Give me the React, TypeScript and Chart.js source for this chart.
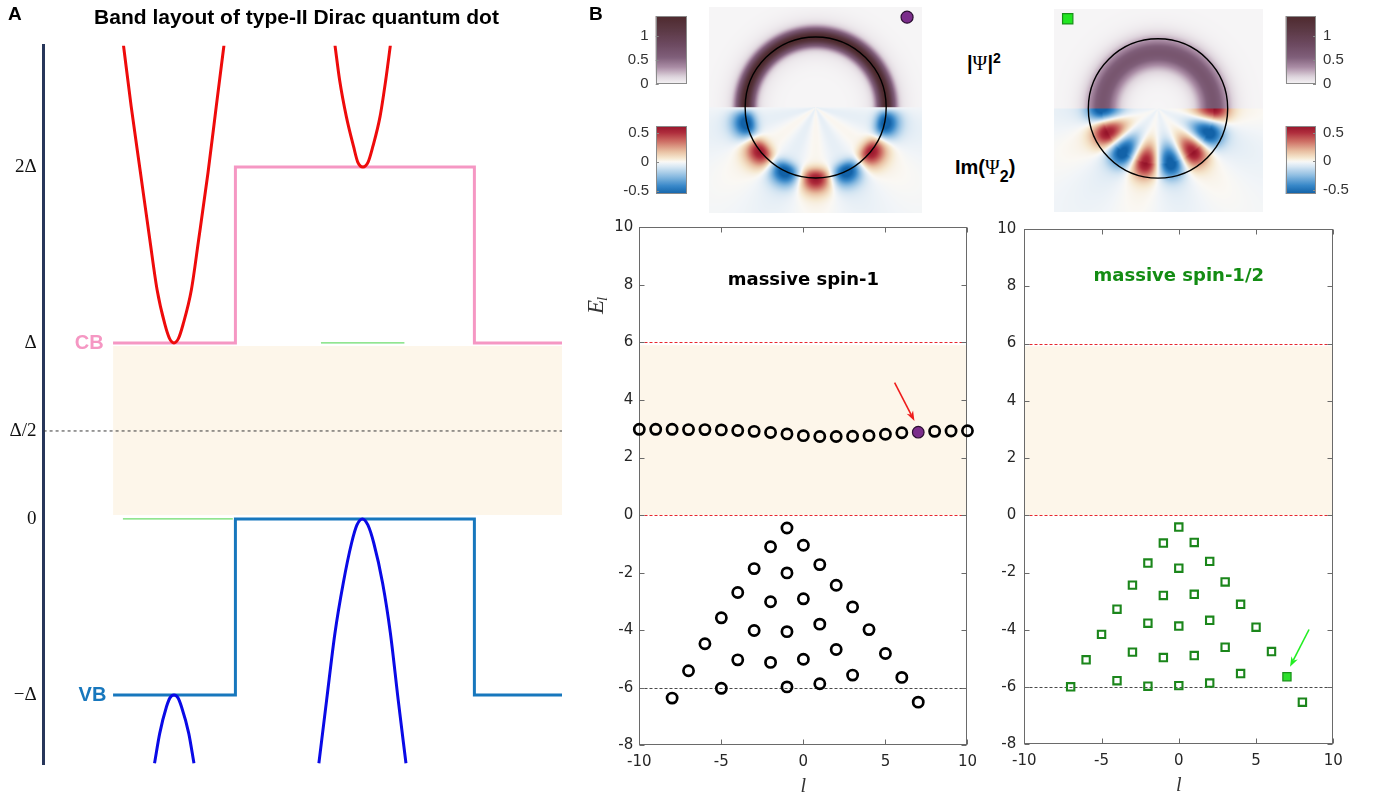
import React, { useEffect, useRef } from 'react';
import { Chart, registerables } from 'chart.js';

Chart.register(...registerables);

/* ================= Panel A : band layout (schematic) ================= */
// x: position in arbitrary units (0..100); E in units of Δ
const bandTickValues = [-1, 0, 0.5, 1, 2];
const bandTickLabels = ['−Δ', '0', 'Δ/2', 'Δ', '2Δ'];
const stepEdgesX = [13.4, 37.0, 37.0, 83.1, 83.1, 100];
const cbStepE = [1, 1, 2, 2, 1, 1];
const vbStepE = [-1, -1, 0, 0, -1, -1];
const gapShadeX = [13.4, 100];
const gapShadeTopE = [0.983, 0.983];
const gapShadeBottomE = 0.023;
const midGapX = [0, 100];
const midGapE = [0.5, 0.5];
const redOuterX = [15.4, 16.9, 18.7, 20.5, 21.9, 23.4, 24.28, 25.15, 26.02, 26.9, 28.5, 29.9, 31.7, 33.3, 34.8];
const redOuterE = [2.693, 2.343, 1.964, 1.585, 1.301, 1.105, 1.026, 1.0, 1.026, 1.105, 1.301, 1.585, 1.964, 2.343, 2.693];
const redInnerX = [56.2, 57.1, 58.4, 59.8, 60.6, 61.6, 62.6, 63.5, 64.9, 66.0, 66.9];
const redInnerE = [2.693, 2.494, 2.286, 2.115, 2.028, 2.0, 2.028, 2.115, 2.286, 2.494, 2.693];
const blueOuterX = [21.4, 22.4, 23.7, 24.4, 25.15, 25.9, 26.6, 28.0, 29.0];
const blueOuterE = [-1.388, -1.218, -1.067, -1.015, -1.0, -1.015, -1.067, -1.218, -1.388];
const blueInnerX = [53.1, 54.6, 56.2, 57.8, 59.4, 60.45, 61.5, 62.55, 63.7, 65.4, 66.9, 68.4, 69.9];
const blueInnerE = [-1.388, -1.028, -0.649, -0.365, -0.138, -0.034, 0, -0.034, -0.138, -0.365, -0.649, -1.028, -1.388];
const greenUpperX = [53.5, 69.6];
const greenUpperE = [1, 1];
const greenLowerX = [15.3, 36.5];
const greenLowerE = [0, 0];
const bandNames = ['CB', 'VB'];
const bandNameX = [11.6, 12.1];
const bandNameE = [1, -1];

/* ================= Panel B : spectra ================= */
const spin1GapL = [-10, -9, -8, -7, -6, -5, -4, -3, -2, -1, 0, 1, 2, 3, 4, 5, 6, 8, 9, 10];
const spin1GapE = [2.98, 2.98, 2.98, 2.97, 2.97, 2.96, 2.94, 2.91, 2.87, 2.82, 2.76, 2.73, 2.73, 2.74, 2.76, 2.81, 2.86, 2.91, 2.92, 2.93];
const spin1BulkL = [-8, -7, -6, -5, -5, -4, -4, -3, -3, -2, -2, -2, -1, -1, -1, -1, 0, 0, 0, 1, 1, 1, 2, 2, 3, 3, 4, 5, 6, 7];
const spin1BulkE = [-6.36, -5.41, -4.47, -3.57, -6.02, -2.69, -5.03, -1.86, -4.01, -1.10, -3.01, -5.12, -0.45, -2.01, -4.05, -5.97, -1.05, -2.91, -5.01, -1.72, -3.79, -5.86, -2.44, -4.67, -3.19, -5.56, -3.98, -4.81, -5.64, -6.50];
const spin1MarkedL = [7];
const spin1MarkedE = [2.88];

const spinHalfL = [-7, -6, -5, -4, -4, -3, -3, -2, -2, -2, -1, -1, -1, 0, 0, 0, 0, 1, 1, 1, 2, 2, 2, 3, 3, 4, 4, 5, 6, 8];
const spinHalfE = [-5.99, -5.05, -4.16, -3.28, -5.78, -2.44, -4.78, -1.67, -3.77, -5.97, -0.97, -2.80, -4.97, -0.41, -1.85, -3.87, -5.95, -0.95, -2.76, -4.90, -1.61, -3.67, -5.86, -2.33, -4.61, -3.11, -5.53, -3.91, -4.76, -6.53];
const spinHalfMarkedL = [7];
const spinHalfMarkedE = [-5.64];

const gapEdges = [0, 6];
const gapShadeTop = 5.9;
const bulkEdge = -6;
const lRange = [-10, 10];
const eRange = [-8, 10];
const lTicks = [-10, -5, 0, 5, 10];
const eTicks = [-8, -6, -4, -2, 0, 2, 4, 6, 8, 10];
const arrowSpin1 = [5.56, 4.60, 6.77, 3.27];
const arrowSpinHalf = [8.43, -3.99, 7.20, -5.29];

/* ================= Panel B : wavefunction maps (parameters, radius in units of dot radius) ================= */
const densityLeft = { amp: 1.32, radius: 1.0, width: 0.085, haloAmp: 0.12, haloWidth: 0.2 };
const densityRight = { amp: 0.58, radius: 0.8, width: 0.15, haloAmp: 0.08, haloWidth: 0.26 };
const lobesLeft = { amp: 0.55, radius: 1.0, widthIn: 0.09, widthOut: 0.14, tailAmp: 0.14, tailLen: 0.45, innerAmp: 0.05, l: 7, phase: Math.PI / 2 };
const lobesRight = { amp: 0.56, radius: 0.8, widthIn: 0.18, widthOut: 0.15, tailAmp: 0.16, tailLen: 0.5, innerAmp: 0.03, l: 7, phase: 0 };
const markerLeft = [1.296, 1.283];
const markerRight = [-1.296, 1.29];

const psiStopValues = [0, 0.15, 0.35, 0.55, 0.8, 1.1, 1.41];
const psiStopColors = [[246, 245, 246], [222, 212, 220], [170, 140, 165], [128, 95, 122], [110, 75, 98], [92, 58, 70], [78, 42, 46]];
const imStopValues = [-0.56, -0.42, -0.25, -0.1, -0.02, 0, 0.06, 0.18, 0.35, 0.5, 0.62];
const imStopColors = [[18, 98, 168], [55, 135, 200], [140, 188, 225], [210, 228, 242], [242, 245, 248], [250, 248, 244], [246, 232, 208], [232, 190, 160], [205, 110, 100], [175, 45, 60], [150, 20, 42]];
const psiBarTicks = [0, 0.5, 1];
const imBarTicks = [-0.5, 0, 0.5];

/* ================= helpers ================= */
const pts = (xs: number[], ys: number[]) => xs.map((x, i) => ({ x, y: ys[i] }));

function cmap(values: number[], colors: number[][], v: number) {
  if (v <= values[0]) return colors[0];
  for (let i = 1; i < values.length; i++) {
    if (v <= values[i]) {
      const t = (v - values[i - 1]) / (values[i] - values[i - 1]);
      const a = colors[i - 1], b = colors[i];
      return [a[0] + t * (b[0] - a[0]), a[1] + t * (b[1] - a[1]), a[2] + t * (b[2] - a[2])];
    }
  }
  return colors[colors.length - 1];
}

function densityAt(p: any, r: number) {
  const d = r - p.radius;
  return p.amp * Math.exp(-(d * d) / (2 * p.width * p.width)) + p.haloAmp * Math.exp(-(d * d) / (2 * p.haloWidth * p.haloWidth));
}

function lobeAt(p: any, r: number, alpha: number) {
  const d = r - p.radius;
  const s = d < 0 ? p.widthIn : p.widthOut;
  const g = Math.exp(-(d * d) / (2 * s * s));
  const tail = d > 0 ? p.tailAmp * Math.exp(-d / p.tailLen) : p.innerAmp;
  return p.amp * Math.cos(p.l * alpha + p.phase) * (g + tail) - 0.02;
}

const heatPlugin = (dens: any, lobes: any) => ({
  id: 'heat',
  beforeDatasetsDraw(chart: any) {
    const { ctx, chartArea: a, scales } = chart;
    const xs = scales.x, ys = scales.y;
    const w = Math.round(a.width), h = Math.round(a.height);
    const off = document.createElement('canvas');
    off.width = w; off.height = h;
    const octx = off.getContext('2d') as CanvasRenderingContext2D;
    const img = octx.createImageData(w, h);
    for (let j = 0; j < h; j++) {
      const yv = ys.getValueForPixel(a.top + j + 0.5);
      for (let i = 0; i < w; i++) {
        const xv = xs.getValueForPixel(a.left + i + 0.5);
        const r = Math.hypot(xv, yv);
        let c;
        if (yv >= 0) c = cmap(psiStopValues, psiStopColors, densityAt(dens, r));
        else c = cmap(imStopValues, imStopColors, lobeAt(lobes, r, Math.atan2(-yv, xv)));
        const k = (j * w + i) * 4;
        img.data[k] = c[0]; img.data[k + 1] = c[1]; img.data[k + 2] = c[2]; img.data[k + 3] = 255;
      }
    }
    octx.putImageData(img, 0, 0);
    ctx.drawImage(off, a.left, a.top);
    const cx = xs.getPixelForValue(0), cy = ys.getPixelForValue(0);
    const rr = xs.getPixelForValue(1) - cx;
    ctx.save();
    ctx.strokeStyle = '#000';
    ctx.lineWidth = 1.4;
    ctx.beginPath();
    ctx.arc(cx, cy, rr, 0, Math.PI * 2);
    ctx.stroke();
    ctx.restore();
  },
});

function drawArrow(ctx: any, x1: number, y1: number, x2: number, y2: number, color: string) {
  const ang = Math.atan2(y2 - y1, x2 - x1);
  const head = 10, hw = 3.6;
  ctx.save();
  ctx.strokeStyle = color;
  ctx.fillStyle = color;
  ctx.lineWidth = 1.6;
  ctx.beginPath();
  ctx.moveTo(x1, y1);
  ctx.lineTo(x2 - head * 0.7 * Math.cos(ang), y2 - head * 0.7 * Math.sin(ang));
  ctx.stroke();
  const bx = x2 - head * Math.cos(ang), by = y2 - head * Math.sin(ang);
  const nx = x2 - head * 0.7 * Math.cos(ang), ny = y2 - head * 0.7 * Math.sin(ang);
  ctx.beginPath();
  ctx.moveTo(x2, y2);
  ctx.lineTo(bx + hw * Math.sin(ang), by - hw * Math.cos(ang));
  ctx.lineTo(nx, ny);
  ctx.lineTo(bx - hw * Math.sin(ang), by + hw * Math.cos(ang));
  ctx.closePath();
  ctx.fill();
  ctx.restore();
}

/* ================= chart configs ================= */
const CB_COLOR = '#f597c3';
const VB_COLOR = '#1777bd';

function bandConfig(): any {
  const curve = (xs: number[], ys: number[], color: string) => ({
    type: 'line', data: pts(xs, ys), borderColor: color, borderWidth: 3, pointRadius: 0,
    cubicInterpolationMode: 'monotone', fill: false, order: 1,
  });
  const straight = (xs: number[], ys: number[], color: string, width: number, order: number, dash: number[] = []) => ({
    type: 'line', data: pts(xs, ys), borderColor: color, borderWidth: width, pointRadius: 0, borderDash: dash, fill: false, order,
  });
  return {
    type: 'line',
    data: {
      datasets: [
        { type: 'line', data: pts(gapShadeX, gapShadeTopE), fill: { value: gapShadeBottomE }, backgroundColor: '#fdf6ea', borderWidth: 0, pointRadius: 0, order: 10 },
        straight(midGapX, midGapE, '#3a3a3a', 1, 9, [3, 3]),
        straight(greenUpperX, greenUpperE, '#6ddc6d', 1.2, 8),
        straight(greenLowerX, greenLowerE, '#6ddc6d', 1.2, 8),
        straight(stepEdgesX, cbStepE, CB_COLOR, 3, 2),
        straight(stepEdgesX, vbStepE, VB_COLOR, 3, 2),
        curve(redOuterX, redOuterE, '#ee0b0b'),
        curve(redInnerX, redInnerE, '#ee0b0b'),
        curve(blueOuterX, blueOuterE, '#0a0ae6'),
        curve(blueInnerX, blueInnerE, '#0a0ae6'),
      ],
    },
    options: {
      responsive: false, animation: false, devicePixelRatio: 1,
      layout: { padding: { top: 45.7, right: 13, bottom: 37.7, left: 0 } },
      plugins: { legend: { display: false }, tooltip: { enabled: false } },
      scales: {
        x: { type: 'linear', min: 0, max: 100, display: false },
        y: {
          type: 'linear', min: -1.394, max: 2.689, position: 'left',
          grid: { display: false, drawTicks: false },
          border: { display: true, color: '#27365a', width: 3 },
          afterFit: (s: any) => { s.width = 43.6; },
          afterBuildTicks: (s: any) => { s.ticks = bandTickValues.map((v) => ({ value: v })); },
          ticks: {
            padding: 7, color: '#111',
            font: { family: '"Liberation Serif", "DejaVu Serif", serif', size: 19 },
            callback: (v: number) => { const i = bandTickValues.indexOf(v); return i >= 0 ? bandTickLabels[i] : ''; },
          },
        },
      },
    },
    plugins: [{
      id: 'bandNames',
      afterDatasetsDraw(chart: any) {
        const { ctx, scales } = chart;
        ctx.save();
        ctx.font = 'bold 20px Arial, "Liberation Sans", sans-serif';
        ctx.textAlign = 'right';
        ctx.textBaseline = 'middle';
        bandNames.forEach((n, i) => {
          ctx.fillStyle = i === 0 ? CB_COLOR : VB_COLOR;
          ctx.fillText(n, scales.x.getPixelForValue(bandNameX[i]), scales.y.getPixelForValue(bandNameE[i]) + 1);
        });
        ctx.restore();
      },
    }],
  };
}

const refLineValues = [gapEdges[1], gapEdges[0], bulkEdge];
const refLineColors = ['#e8262e', '#e8262e', '#4a4a4a'];

function scatterConfig(spec: any): any {
  return {
    type: 'scatter',
    data: {
      datasets: [
        { type: 'line', data: pts(lRange, [gapShadeTop, gapShadeTop]), fill: { value: gapEdges[0] }, backgroundColor: '#fdf6ea', borderWidth: 0, pointRadius: 0, order: 10 },
        ...spec.datasets,
      ],
    },
    options: {
      responsive: false, animation: false, devicePixelRatio: 1,
      layout: { padding: { top: spec.padTop, right: spec.padRight, left: 0, bottom: 0 } },
      plugins: { legend: { display: false }, tooltip: { enabled: false } },
      scales: {
        x: {
          type: 'linear', min: lRange[0], max: lRange[1],
          grid: { display: false, drawTicks: false }, border: { display: false },
          afterFit: (s: any) => { s.height = spec.xAxisHeight; },
          afterBuildTicks: (s: any) => { s.ticks = lTicks.map((v) => ({ value: v })); },
          ticks: { padding: 8, color: '#262626', font: { family: '"DejaVu Sans", Arial, sans-serif', size: 15 }, callback: (v: number) => String(v) },
        },
        y: {
          type: 'linear', min: eRange[0], max: eRange[1],
          grid: { display: false, drawTicks: false }, border: { display: false },
          afterFit: (s: any) => { s.width = spec.yAxisWidth; },
          afterBuildTicks: (s: any) => { s.ticks = eTicks.map((v) => ({ value: v })); },
          ticks: { padding: spec.yLabelPad, color: '#262626', font: { family: '"DejaVu Sans", Arial, sans-serif', size: 15 }, callback: (v: number) => String(v) },
        },
      },
    },
    plugins: [{
      id: 'decor',
      afterDatasetDraw(chart: any, args: any) {
        if (args.index !== 0) return;
        const { ctx, chartArea: a, scales } = chart;
        const L = Math.round(a.left) + 0.5, R = Math.round(a.right) - 0.5;
        const T = Math.round(a.top) + 0.5, B = Math.round(a.bottom) - 0.5;
        ctx.save();
        // dashed reference lines (gap edges and bulk edge)
        ctx.lineWidth = 1;
        ctx.setLineDash([3, 2]);
        refLineValues.forEach((v, i) => {
          const p = Math.round(scales.y.getPixelForValue(v)) + 0.5;
          ctx.strokeStyle = refLineColors[i];
          ctx.beginPath();
          ctx.moveTo(L, p);
          ctx.lineTo(R, p);
          ctx.stroke();
        });
        ctx.setLineDash([]);
        ctx.strokeStyle = '#6a6a6a';
        ctx.strokeRect(L, T, R - L, B - T);
        ctx.beginPath();
        lTicks.forEach((v) => {
          const p = Math.round(scales.x.getPixelForValue(v)) + 0.5;
          ctx.moveTo(p, B); ctx.lineTo(p, B - 5);
          ctx.moveTo(p, T); ctx.lineTo(p, T + 5);
        });
        eTicks.forEach((v) => {
          const p = Math.round(scales.y.getPixelForValue(v)) + 0.5;
          ctx.moveTo(L, p); ctx.lineTo(L + 5, p);
          ctx.moveTo(R, p); ctx.lineTo(R - 5, p);
        });
        ctx.stroke();
        ctx.restore();
      },
      afterDatasetsDraw(chart: any) {
        const { ctx, scales } = chart;
        const xs = scales.x, ys = scales.y;
        const ar = spec.arrow;
        drawArrow(ctx, xs.getPixelForValue(ar[0]), ys.getPixelForValue(ar[1]), xs.getPixelForValue(ar[2]), ys.getPixelForValue(ar[3]), spec.arrowColor);
        ctx.save();
        ctx.font = 'bold 18px "DejaVu Sans", Arial, sans-serif';
        ctx.fillStyle = spec.titleColor;
        ctx.textAlign = 'center';
        ctx.textBaseline = 'middle';
        ctx.fillText(spec.title, xs.getPixelForValue(0), ys.getPixelForValue(spec.titleE));
        ctx.restore();
      },
      afterDraw(chart: any) {
        const { ctx, chartArea: a, scales } = chart;
        ctx.save();
        ctx.fillStyle = '#333';
        ctx.font = 'italic 20px "Liberation Serif", "DejaVu Serif", serif';
        ctx.textAlign = 'center';
        ctx.textBaseline = 'middle';
        ctx.fillText('l', scales.x.getPixelForValue(0), a.bottom + 41);
        if (spec.showYTitle) {
          ctx.translate(a.left - 42, scales.y.getPixelForValue(7.3));
          ctx.rotate(-Math.PI / 2);
          ctx.textAlign = 'left';
          ctx.font = 'italic 23px "Liberation Serif", "DejaVu Serif", serif';
          const wE = ctx.measureText('E').width;
          ctx.font = 'italic 15px "Liberation Serif", "DejaVu Serif", serif';
          const wl = ctx.measureText('l').width;
          const x0 = -(wE + wl) / 2;
          ctx.font = 'italic 23px "Liberation Serif", "DejaVu Serif", serif';
          ctx.fillText('E', x0, 0);
          ctx.font = 'italic 15px "Liberation Serif", "DejaVu Serif", serif';
          ctx.fillText('l', x0 + wE - 1, 6);
        }
        ctx.restore();
      },
    }],
  };
}

function heatConfig(dens: any, lobes: any, xr: number[], yr: number[], marker: any): any {
  return {
    type: 'scatter',
    data: { datasets: [marker] },
    options: {
      responsive: false, animation: false, devicePixelRatio: 1,
      layout: { padding: 0 },
      plugins: { legend: { display: false }, tooltip: { enabled: false } },
      scales: {
        x: { type: 'linear', min: xr[0], max: xr[1], display: false },
        y: { type: 'linear', min: yr[0], max: yr[1], display: false },
      },
    },
    plugins: [heatPlugin(dens, lobes)],
  };
}

function colorbarConfig(min: number, max: number, ticks: number[], values: number[], colors: number[][], position: string, axisWidth: number, padding: any): any {
  return {
    type: 'scatter',
    data: { datasets: [] },
    options: {
      responsive: false, animation: false, devicePixelRatio: 1,
      layout: { padding },
      plugins: { legend: { display: false }, tooltip: { enabled: false } },
      scales: {
        x: { type: 'linear', min: 0, max: 1, display: false },
        y: {
          type: 'linear', min, max, position,
          grid: { display: false, drawTicks: false }, border: { display: false },
          afterFit: (s: any) => { s.width = axisWidth; },
          afterBuildTicks: (s: any) => { s.ticks = ticks.map((v) => ({ value: v })); },
          ticks: { padding: 7, color: '#333', font: { family: 'Arial, "Liberation Sans", sans-serif', size: 15 }, callback: (v: number) => String(v) },
        },
      },
    },
    plugins: [{
      id: 'bar',
      beforeDatasetsDraw(chart: any) {
        const { ctx, chartArea: a, scales } = chart;
        const g = ctx.createLinearGradient(0, a.bottom, 0, a.top);
        for (let i = 0; i <= 40; i++) {
          const v = min + (max - min) * (i / 40);
          const c = cmap(values, colors, v);
          g.addColorStop(i / 40, `rgb(${Math.round(c[0])},${Math.round(c[1])},${Math.round(c[2])})`);
        }
        ctx.save();
        ctx.fillStyle = g;
        ctx.fillRect(a.left, a.top, a.width, a.height);
        ctx.strokeStyle = '#8a8a8a';
        ctx.lineWidth = 1;
        ctx.strokeRect(Math.round(a.left) + 0.5, Math.round(a.top) + 0.5, Math.round(a.width) - 1, Math.round(a.height) - 1);
        ctx.beginPath();
        ticks.forEach((v) => {
          const p = Math.round(scales.y.getPixelForValue(v)) + 0.5;
          if (position === 'left') { ctx.moveTo(a.left, p); ctx.lineTo(a.left + 3, p); }
          else { ctx.moveTo(a.right, p); ctx.lineTo(a.right - 3, p); }
        });
        ctx.stroke();
        ctx.restore();
      },
    }],
  };
}

/* ================= components ================= */
function ChartCanvas({ left, top, width, height, make }: any) {
  const ref = useRef<HTMLCanvasElement>(null);
  useEffect(() => {
    const chart = new Chart(ref.current as HTMLCanvasElement, make());
    return () => chart.destroy();
  }, []);
  return <canvas ref={ref} width={width} height={height} style={{ position: 'absolute', left, top, width, height }} />;
}

const abs = (left: number, top: number, extra: any = {}) => ({ position: 'absolute' as const, left, top, lineHeight: 1, whiteSpace: 'nowrap' as const, ...extra });

export default function App() {
  const spin1Sets = [
    { data: pts(spin1GapL, spin1GapE), pointStyle: 'circle', pointRadius: 5.1, borderWidth: 2.7, borderColor: '#000', backgroundColor: 'rgba(0,0,0,0)', clip: false, order: 1 },
    { data: pts(spin1BulkL, spin1BulkE), pointStyle: 'circle', pointRadius: 5.1, borderWidth: 2.7, borderColor: '#000', backgroundColor: 'rgba(0,0,0,0)', clip: false, order: 1 },
    { data: pts(spin1MarkedL, spin1MarkedE), pointStyle: 'circle', pointRadius: 5.8, borderWidth: 1.2, borderColor: '#2a0e30', backgroundColor: '#7b2d8b', clip: false, order: 0 },
  ];
  const spinHalfSets = [
    { data: pts(spinHalfL, spinHalfE), pointStyle: 'rect', pointRadius: 5.2, borderWidth: 2.1, borderColor: '#1b861b', backgroundColor: 'rgba(255,255,255,0)', clip: false, order: 1 },
    { data: pts(spinHalfMarkedL, spinHalfMarkedE), pointStyle: 'rect', pointRadius: 5.8, borderWidth: 1.2, borderColor: '#189018', backgroundColor: '#2ee02e', clip: false, order: 0 },
  ];
  const psiMarkerL = { data: [{ x: markerLeft[0], y: markerLeft[1] }], pointStyle: 'circle', pointRadius: 6, borderWidth: 1.2, borderColor: '#2a0e30', backgroundColor: '#7b2d8b', clip: false };
  const psiMarkerR = { data: [{ x: markerRight[0], y: markerRight[1] }], pointStyle: 'rect', pointRadius: 7.3, borderWidth: 1.2, borderColor: '#189018', backgroundColor: '#22e622', clip: false };

  return (
    <div style={{ position: 'absolute', left: 0, top: 0, width: 1393, height: 802, background: '#fff', overflow: 'hidden', fontFamily: 'Arial, "Liberation Sans", sans-serif' }}>
      <ChartCanvas left={0} top={0} width={575} height={802} make={bandConfig} />
      <ChartCanvas left={702} top={0} width={227} height={220} make={() => heatConfig(densityLeft, lobesLeft, [-1.51, 1.505], [-1.497, 1.425], psiMarkerL)} />
      <ChartCanvas left={1045} top={0} width={226} height={220} make={() => heatConfig(densityRight, lobesRight, [-1.5, 1.5], [-1.483, 1.438], psiMarkerR)} />
      <ChartCanvas left={600} top={0} width={90} height={100} make={() => colorbarConfig(0, 1.41, psiBarTicks, psiStopValues, psiStopColors, 'left', 55.7, { top: 3.3, right: 3.3, bottom: 7.7, left: 0 })} />
      <ChartCanvas left={600} top={110} width={90} height={100} make={() => colorbarConfig(-0.556, 0.615, imBarTicks, imStopValues, imStopColors, 'left', 56, { top: 8.3, right: 3.3, bottom: 6, left: 0 })} />
      <ChartCanvas left={1280} top={0} width={110} height={100} make={() => colorbarConfig(0, 1.41, psiBarTicks, psiStopValues, psiStopColors, 'right', 74, { top: 3.3, right: 0, bottom: 8.3, left: 5.7 })} />
      <ChartCanvas left={1280} top={110} width={110} height={100} make={() => colorbarConfig(-0.57, 0.616, imBarTicks, imStopValues, imStopColors, 'right', 74, { top: 9.3, right: 0, bottom: 6, left: 5.7 })} />
      <ChartCanvas left={575} top={212} width={410} height={590} make={() => scatterConfig({ datasets: spin1Sets, padTop: 15.3, padRight: 15.7, yAxisWidth: 64.3, xAxisHeight: 56.7, yLabelPad: 6, title: 'massive spin-1', titleColor: '#000', titleE: 8.17, showYTitle: true, arrow: arrowSpin1, arrowColor: '#ee1c1c' })} />
      <ChartCanvas left={985} top={212} width={400} height={590} make={() => scatterConfig({ datasets: spinHalfSets, padTop: 16.3, padRight: 51.7, yAxisWidth: 39.3, xAxisHeight: 57.7, yLabelPad: 8, title: 'massive spin-1/2', titleColor: '#138c13', titleE: 8.33, showYTitle: false, arrow: arrowSpinHalf, arrowColor: '#22ee22' })} />

      <div style={abs(8, 2.5, { font: 'bold 19px Arial, "Liberation Sans", sans-serif' })}>A</div>
      <div style={abs(296.5, 4.6, { font: 'bold 21px Arial, "Liberation Sans", sans-serif', transform: 'translateX(-50%)' })}>Band layout of type-II Dirac quantum dot</div>
      <div style={abs(589, 2.7, { font: 'bold 19px Arial, "Liberation Sans", sans-serif' })}>B</div>
      <div style={abs(967, 52, { font: 'bold 20px Arial, "Liberation Sans", sans-serif' })}>
        |<span style={{ fontFamily: '"Liberation Serif", "DejaVu Serif", serif', fontWeight: 'normal' }}>Ψ</span>|<span style={{ fontSize: 14, position: 'relative', top: -7 }}>2</span>
      </div>
      <div style={abs(955, 155.7, { font: 'bold 20px Arial, "Liberation Sans", sans-serif' })}>
        Im(<span style={{ fontFamily: '"Liberation Serif", "DejaVu Serif", serif', fontWeight: 'normal' }}>Ψ</span><span style={{ fontSize: 16, position: 'relative', top: 8 }}>2</span>)
      </div>
    </div>
  );
}
